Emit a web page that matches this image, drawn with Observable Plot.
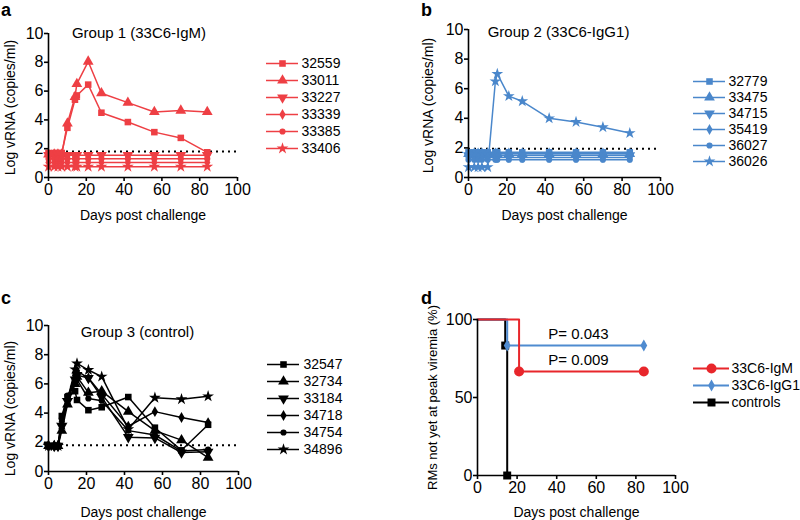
<!DOCTYPE html>
<html><head><meta charset="utf-8">
<script src="https://cdn.jsdelivr.net/npm/d3@7"></script>
<script src="https://cdn.jsdelivr.net/npm/@observablehq/plot@0.6"></script>
<style>
body{margin:0;background:#fff;font-family:"Liberation Sans",Arial,Helvetica,sans-serif;}
#root{position:relative;width:800px;height:520px;overflow:hidden;background:#fff;}
.abs{position:absolute;}
.abs svg{overflow:visible;max-width:none;}
.letter{position:absolute;font-weight:bold;font-size:18px;line-height:18px;color:#000;}
</style></head><body><div id="root"></div><script>
// ---------- data ----------
const days = [0, 3, 5, 7, 10, 14, 15, 21, 28, 42, 56, 70, 84];

const idsA = ["32559", "33011", "33227", "33339", "33385", "33406"];
const a32559 = [1.7, 1.7, 1.7, 1.7, 3.45, 5.4, 5.7, 6.45, 4.5, 3.85, 3.15, 2.75, 1.75];
const a33011 = [1.6, 1.6, 1.6, 1.6, 3.75, 5.6, 6.5, 8.05, 5.85, 5.2, 4.55, 4.65, 4.55];
const a33227 = [1.55, 1.55, 1.55, 1.55, 1.55, 1.55, 1.55, 1.55, 1.55, 1.55, 1.55, 1.55, 1.55];
const a33339 = [1.05, 1.05, 1.05, 1.05, 1.05, 1.05, 1.05, 1.05, 1.05, 1.05, 1.05, 1.05, 1.05];
const a33385 = [1.3, 1.3, 1.3, 1.3, 1.3, 1.3, 1.3, 1.3, 1.3, 1.3, 1.3, 1.3, 1.3];
const a33406 = [0.75, 0.75, 0.75, 0.75, 0.75, 0.75, 0.75, 0.75, 0.75, 0.75, 0.75, 0.75, 0.75];

const idsB = ["32779", "33475", "34715", "35419", "36027", "36026"];
const b32779 = [1.7, 1.7, 1.7, 1.7, 1.7, 1.7, 1.7, 1.7, 1.7, 1.7, 1.7, 1.7, 1.7];
const b33475 = [1.6, 1.6, 1.6, 1.6, 1.6, 1.6, 1.6, 1.6, 1.6, 1.6, 1.6, 1.6, 1.6];
const b34715 = [1.5, 1.5, 1.5, 1.5, 1.5, 1.5, 1.5, 1.5, 1.5, 1.5, 1.5, 1.5, 1.5];
const b35419 = [1.35, 1.35, 1.35, 1.35, 1.35, 1.35, 1.35, 1.35, 1.35, 1.35, 1.35, 1.35, 1.35];
const b36027 = [1.2, 1.2, 1.2, 1.2, 1.2, 1.2, 1.2, 1.2, 1.2, 1.2, 1.2, 1.2, 1.2];
const b36026 = [0.7, 0.7, 0.7, 0.7, 0.7, 6.5, 7.0, 5.5, 5.15, 4.0, 3.75, 3.4, 3.0];

const idsC = ["32547", "32734", "33184", "34718", "34754", "34896"];
const c32547 = [1.75, 1.75, 1.75, 3.8, 5.1, 5.5, 4.9, 4.2, 4.4, 5.1, 3.0, 1.45, 3.2];
const c32734 = [1.75, 1.75, 1.75, 2.8, 4.6, 6.0, 6.5, 5.4, 5.5, 4.1, 2.8, 2.15, 0.95];
const c33184 = [1.75, 1.75, 1.75, 3.1, 4.8, 6.3, 6.6, 6.4, 5.1, 2.35, 2.3, 1.3, 1.35];
const c34718 = [1.75, 1.75, 1.75, 3.4, 5.0, 6.6, 6.9, 6.4, 5.3, 3.1, 4.1, 3.7, 3.35];
const c34754 = [1.75, 1.75, 1.75, 3.6, 5.2, 6.1, 6.3, 5.0, 4.85, 2.8, 2.5, 1.4, 1.5];
const c34896 = [1.75, 1.75, 1.75, 3.2, 4.9, 7.0, 7.4, 6.95, 6.5, 2.9, 5.05, 4.95, 5.15];

const limitA = 1.8, limitB = 1.95, limitC = 1.8;

// panel d: Kaplan-Meier style steps
const groupsD = ["33C6-IgM", "33C6-IgG1", "controls"];
const kmIgM_x = [0, 21, 84], kmIgM_y = [100, 66.7, 66.7];
const kmIgG1_x = [0, 15, 84], kmIgG1_y = [100, 83.3, 83.3];
const kmCtrl_x = [0, 14, 15], kmCtrl_y = [100, 83.3, 0];
const mkIgM_x = [21, 84], mkIgM_y = [66.7, 66.7];
const mkIgG1_x = [15, 84], mkIgG1_y = [83.3, 83.3];
const mkCtrl_x = [14, 15], mkCtrl_y = [83.3, 0];
const pText = ["P= 0.043", "P= 0.009"];
const pX = [51, 51], pY = [90.5, 74];

const xTicks = [0, 20, 40, 60, 80, 100];
const yTicksV = [0, 2, 4, 6, 8, 10];
const yTicksD = [0, 50, 100];

// ---------- helpers ----------
const FONT = '"Liberation Sans", Arial, Helvetica, sans-serif';
const sqrt3 = Math.sqrt(3);
const triangleDown = {
  draw(context, size) {
    const y = -Math.sqrt(size / (sqrt3 * 3));
    context.moveTo(0, -y * 2);
    context.lineTo(-sqrt3 * y, y);
    context.lineTo(sqrt3 * y, y);
    context.closePath();
  }
};
const symbols = ["square", "triangle", triangleDown, "diamond", "circle", "star"];
const radii = [3.7, 4.0, 4.0, 3.3, 3.1, 3.7];

const root = document.getElementById("root");
function place(node, left, top) {
  const div = document.createElement("div");
  div.className = "abs";
  div.style.left = left + "px";
  div.style.top = top + "px";
  div.appendChild(node);
  root.appendChild(div);
}
function letter(t, left, top) {
  const d = document.createElement("div");
  d.className = "letter";
  d.textContent = t;
  d.style.left = left + "px";
  d.style.top = top + "px";
  root.appendChild(d);
}

function seriesRows(ids, arrays) {
  const rows = [];
  ids.forEach((id, i) => arrays[i].forEach((v, j) => rows.push({id, day: days[j], v, k: i})));
  return rows;
}

function axesMarks(yDomain, yTicks) {
  return [
    Plot.ruleX([0], {y1: yDomain[0], y2: yDomain[1], strokeWidth: 1.6}),
    Plot.ruleY([yDomain[0]], {x1: 0, x2: 100, strokeWidth: 1.6}),
    Plot.axisX({ticks: xTicks, tickSize: 4, tickPadding: 2, label: null, strokeWidth: 1.6}),
    Plot.axisY({ticks: yTicks, tickSize: 4, tickPadding: 1, label: null, strokeWidth: 1.6})
  ];
}

function vPanel(o) {
  const rows = seriesRows(o.ids, o.arrays);
  const marks = [
    Plot.ruleY([o.limit], {x1: 0, x2: 100, stroke: "#000", strokeWidth: 2, strokeDasharray: "2,4"}),
    Plot.line(rows, {x: "day", y: "v", z: "id", stroke: o.color, strokeWidth: 1.5})
  ];
  o.ids.forEach((id, i) => {
    marks.push(Plot.dot(rows.filter(d => d.k === i), {x: "day", y: "v", symbol: symbols[i], r: radii[i], fill: o.color, stroke: "none"}));
  });
  marks.push(...axesMarks([0, 10], yTicksV));
  marks.push(Plot.text([o.title], {text: d => d, frameAnchor: "top", dx: o.tdx, dy: o.tdy, fontSize: 15, lineAnchor: "middle", textAnchor: "middle"}));
  marks.push(Plot.text(["Log vRNA (copies/ml)"], {text: d => d, frameAnchor: "left", rotate: -90, dx: o.ydx, dy: o.ydy, fontSize: 14, lineAnchor: "middle", textAnchor: "middle"}));
  marks.push(Plot.text(["Days post challenge"], {text: d => d, frameAnchor: "bottom", dy: o.xdy, fontSize: 14, lineAnchor: "middle", textAnchor: "middle"}));
  const svg = Plot.plot({
    width: o.width, height: o.height,
    marginLeft: o.mL, marginRight: o.mR, marginTop: o.mT, marginBottom: o.mB,
    x: {domain: [0, 100]}, y: {domain: [0, 10]},
    style: {fontSize: "16px", fontFamily: FONT, overflow: "visible", background: "transparent"},
    marks
  });
  place(svg, o.left, o.top);
}

function legend(o) {
  const n = o.ids.length;
  const marks = [];
  o.ids.forEach((id, i) => {
    const c = Array.isArray(o.colors) ? o.colors[i] : o.colors;
    marks.push(Plot.ruleY([id], {y: d => d, x1: 0, x2: 1, stroke: c, strokeWidth: o.sw}));
    marks.push(Plot.dot([id], {y: d => d, x: () => 0.5, symbol: o.syms[i], r: o.rs[i], fill: c, stroke: "none"}));
  });
  marks.push(Plot.text(o.ids, {y: d => d, x: () => 1, text: d => d, dx: o.tx, textAnchor: "start", fontSize: o.fs}));
  const svg = Plot.plot({
    width: 130, height: 16 + (n - 1) * o.step,
    x: {domain: [0, 1], range: [0, o.len], axis: null},
    y: {type: "point", domain: o.ids, range: [8, 8 + (n - 1) * o.step], padding: 0, axis: null},
    style: {fontSize: "14px", fontFamily: FONT, overflow: "visible", background: "transparent"},
    marks
  });
  place(svg, o.left, o.top);
}

// ---------- panels ----------
const RED = "#ee3f44", BLUE = "#4a87cb";

vPanel({ids: idsA, arrays: [a32559, a33011, a33227, a33339, a33385, a33406], color: RED, limit: limitA,
  title: "Group 1 (33C6-IgM)", tdx: -4, tdy: 0, ydx: -38, ydy: 2, xdy: 38,
  left: 0, top: 0, width: 250, height: 232, mL: 48, mR: 13, mT: 33, mB: 55});
legend({ids: idsA, syms: symbols, rs: radii, colors: RED, sw: 1.5, len: 32, tx: 3, fs: 14, step: 17.2, left: 266, top: 54});

vPanel({ids: idsB, arrays: [b32779, b33475, b34715, b35419, b36027, b36026], color: BLUE, limit: limitB,
  title: "Group 2 (33C6-IgG1)", tdx: -6, tdy: 3, ydx: -40, ydy: 2, xdy: 38,
  left: 400, top: 0, width: 272, height: 232, mL: 68, mR: 12, mT: 29, mB: 55});
legend({ids: idsB, syms: symbols, rs: radii, colors: BLUE, sw: 1.5, len: 32, tx: 3, fs: 14, step: 16.8, left: 693, top: 71});

vPanel({ids: idsC, arrays: [c32547, c32734, c33184, c34718, c34754, c34896], color: "#000", limit: limitC,
  title: "Group 3 (control)", tdx: -6, tdy: 7, ydx: -38, ydy: 10, xdy: 41,
  left: 0, top: 260, width: 250, height: 260, mL: 48, mR: 12, mT: 65, mB: 49});
legend({ids: idsC, syms: symbols, rs: radii, colors: "#000", sw: 1.5, len: 32, tx: 4, fs: 14, step: 17.2, left: 267, top: 355});

// panel d
(function () {
  const DRED = "#e8262b", DBLUE = "#4f8bd0";
  const pts = (xs, ys) => xs.map((x, i) => ({x, y: ys[i]}));
  const marks = [
    Plot.line(pts(kmCtrl_x, kmCtrl_y), {x: "x", y: "y", curve: "step-after", stroke: "#000", strokeWidth: 2}),
    Plot.line(pts(kmIgG1_x, kmIgG1_y), {x: "x", y: "y", curve: "step-after", stroke: DBLUE, strokeWidth: 2}),
    Plot.line(pts(kmIgM_x, kmIgM_y), {x: "x", y: "y", curve: "step-after", stroke: DRED, strokeWidth: 2}),
    Plot.dot(pts(mkCtrl_x, mkCtrl_y), {x: "x", y: "y", symbol: "square", r: 4.5, fill: "#000", stroke: "none"}),
    Plot.dot(pts(mkIgG1_x, mkIgG1_y), {x: "x", y: "y", symbol: "diamond", r: 3.6, fill: DBLUE, stroke: "none"}),
    Plot.dot(pts(mkIgM_x, mkIgM_y), {x: "x", y: "y", symbol: "circle", r: 5, fill: DRED, stroke: "none"}),
    ...axesMarks([0, 100], yTicksD),
    Plot.text(pText.map((t, i) => ({t, x: pX[i], y: pY[i]})), {x: "x", y: "y", text: "t", fontSize: 15}),
    Plot.text(["RMs not yet at peak viremia (%)"], {text: d => d, frameAnchor: "left", rotate: -90, dx: -45, dy: 0, fontSize: 13, lineAnchor: "middle", textAnchor: "middle"}),
    Plot.text(["Days post challenge"], {text: d => d, frameAnchor: "bottom", dy: 37, fontSize: 14, lineAnchor: "middle", textAnchor: "middle"})
  ];
  const svg = Plot.plot({
    width: 290, height: 260, marginLeft: 77, marginRight: 15, marginTop: 59, marginBottom: 45,
    x: {domain: [0, 100]}, y: {domain: [0, 100]},
    style: {fontSize: "16px", fontFamily: FONT, overflow: "visible", background: "transparent"},
    marks
  });
  place(svg, 400, 260);
  legend({ids: groupsD, syms: ["circle", "diamond", "square"], rs: [5, 3.6, 4.5], colors: [DRED, DBLUE, "#000"],
    sw: 2, len: 36, tx: 2, fs: 14, step: 17, left: 693, top: 360});
})();

letter("a", 1, 1);
letter("b", 421, 1);
letter("c", 1, 289);
letter("d", 421, 289);
</script></body></html>
